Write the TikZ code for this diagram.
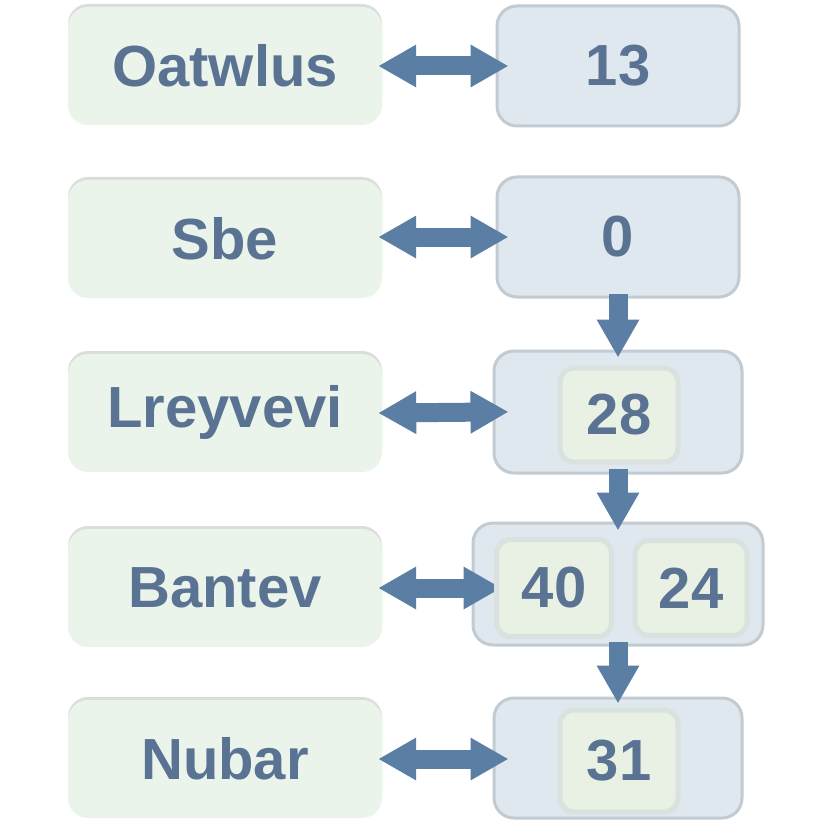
\documentclass[tikz,border=0pt]{standalone}
\usepackage{fontspec}
\setmainfont{Liberation Sans}
\usetikzlibrary{arrows.meta,shadows}
\definecolor{txt}{HTML}{5A7392}
\definecolor{arr}{HTML}{5B7FA4}
\definecolor{lfill}{HTML}{EAF4EA}
\definecolor{rfill}{HTML}{DFE8EF}
\definecolor{rdraw}{HTML}{C2CBD1}
\definecolor{ifill}{HTML}{E8F1E4}
\definecolor{idraw}{HTML}{D9E2DE}
\tikzset{
  lbox/.style={rectangle, rounded corners=20pt, fill=lfill, minimum width=314pt, minimum height=118pt, inner sep=0pt, text=txt, font=\fontsize{58}{60}\selectfont\bfseries, drop shadow={shadow xshift=0pt, shadow yshift=3pt, fill=gray!45, opacity=.6}},
  rbox/.style={rectangle, rounded corners=20pt, fill=rfill, draw=rdraw, line width=3pt, minimum width=242pt, minimum height=120pt, inner sep=0pt, text=txt, font=\fontsize{58}{60}\selectfont\bfseries},
  ibox/.style={rectangle, rounded corners=14pt, fill=ifill, draw=idraw, line width=5pt, inner sep=0pt, text=txt, font=\fontsize{58}{60}\selectfont\bfseries},
  harr/.style={arr, line width=19pt, {Triangle[length=38pt,width=40pt]}-{Triangle[length=38pt,width=40pt]}},
  varr/.style={arr, line width=19pt, -{Triangle[length=38pt,width=40pt]}},
}
\begin{document}
\begin{tikzpicture}[x=1pt,y=-1pt]
\useasboundingbox[fill=white] (0,0) rectangle (829,829);
% left boxes
\node[lbox] (l1) at (225,66) {Oatwlus};
\node[lbox] (l2) at (225,239) {Sbe};
\node[lbox] (l3) at (225,413) {Lreyvevi};
\node[lbox] (l4) at (225,588) {Bantev};
\node[lbox] (l5) at (225,759) {Nubar};
% right boxes
\node[rbox] (r1) at (618,66) {13};
\node[rbox] (r2) at (618,237) {0};
\node[rbox, minimum width=248pt, minimum height=122pt] (r3) at (618,412) {};
\node[rbox, minimum width=290pt, minimum height=122pt] (r4) at (618,584) {};
\node[rbox, minimum width=248pt, minimum height=120pt] (r5) at (618,758) {};
% arrows
\draw[harr, shorten <=-4pt, shorten >=-13pt] (l1.east) -- (r1.west);
\draw[harr, shorten <=-4pt, shorten >=-13pt] (l2.east |- r2.west) -- (r2.west);
\draw[harr, shorten <=-4pt, shorten >=-16pt] (l3.east) -- (r3.west);
\draw[harr, shorten <=-4pt, shorten >=-30pt] (l4.east) -- (r4.west |- l4.east);
\draw[harr, shorten <=-4pt, shorten >=-16pt] (l5.east) -- (r5.west |- l5.east);
\draw[varr, shorten <=-5pt, shorten >=-8pt] (r2.south) -- (r3.north);
\draw[varr, shorten <=-6pt, shorten >=-9pt] (r3.south) -- (r4.north);
\draw[varr, shorten <=-5pt, shorten >=-7pt] (r4.south) -- (r5.north);
% inner boxes
\node[ibox, minimum width=118pt, minimum height=94pt] (i3) at (619,415) {28};
\node[ibox, minimum width=115pt, minimum height=97pt] (i4a) at (554,588) {40};
\node[ibox, minimum width=112pt, minimum height=95pt] (i4b) at (691,588) {24};
\node[ibox, minimum width=118pt, minimum height=102pt] (i5) at (619,761) {31};
\end{tikzpicture}
\end{document}
